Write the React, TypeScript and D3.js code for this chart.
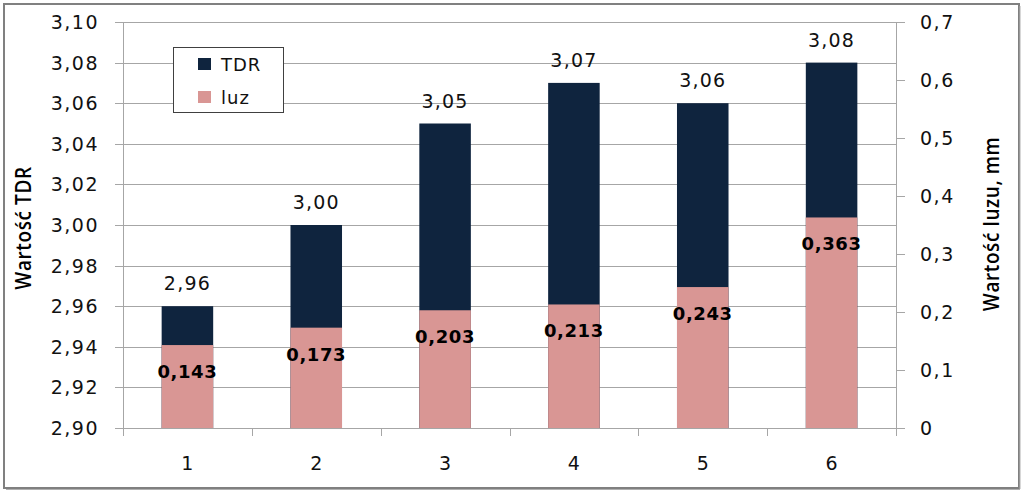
import React from "react";
import * as d3 from "d3";

const categories = ["1", "2", "3", "4", "5", "6"];
const tdrValues = [2.96, 3.0, 3.05, 3.07, 3.06, 3.08];
const luzValues = [0.143, 0.173, 0.203, 0.213, 0.243, 0.363];
const leftTicks = [2.9, 2.92, 2.94, 2.96, 2.98, 3.0, 3.02, 3.04, 3.06, 3.08, 3.1];
const rightTicks = [0, 0.1, 0.2, 0.3, 0.4, 0.5, 0.6, 0.7];
const seriesNames = ["TDR", "luz"];
const leftTitle = "Wartość TDR";
const rightTitle = "Wartość luzu, mm";

const W = 1024;
const H = 493;
const L = 123;
const R = 896;
const T = 22;
const B = 428;

const NAVY = "#0F243E";
const PINK = "#D99694";
const GRID = "#A6A6A6";
const TXT = "#111";

const fmt = (v: number, d: number) => v.toFixed(d).replace(".", ",");

export default function App() {
  const x = d3.scaleBand<string>().domain(categories).range([L, R]).paddingInner(0.6).paddingOuter(0.3);
  const yL = d3.scaleLinear().domain([2.9, 3.1]).range([B, T]);
  const yR = d3.scaleLinear().domain([0, 0.7]).range([B, T]);
  const step = x.step();
  const bw = x.bandwidth();
  const numFont = "'DejaVu Sans', Verdana, sans-serif";
  const titleFont = "'Open Sans', 'Noto Sans', sans-serif";

  return (
    <svg width={W} height={H} style={{ position: "absolute", left: 0, top: 0, background: "#fff" }}>
      <rect x={0} y={0} width={W} height={H} fill="#fff" />
      <rect x={4} y={4} width={1015} height={484} fill="none" stroke="#808080" strokeWidth={2} />
      <line x1={1020} x2={1020} y1={6} y2={489} stroke="#b0b0b0" strokeWidth={1} />
      <line x1={6} x2={1020} y1={489.5} y2={489.5} stroke="#b0b0b0" strokeWidth={1} />

      {/* gridlines */}
      {leftTicks.map((t) => (
        <line key={"g" + t} x1={L - 8} x2={R} y1={Math.round(yL(t)) + 0.5} y2={Math.round(yL(t)) + 0.5} stroke={GRID} strokeWidth={1} />
      ))}
      {/* left axis */}
      <line x1={L + 0.5} x2={L + 0.5} y1={T} y2={B + 1} stroke={GRID} />
      {leftTicks.map((t) => (
        <text key={"lt" + t} x={99} y={yL(t) + 7} textAnchor="end" fontFamily={numFont} fontSize={19} letterSpacing={1.5} fill={TXT}>
          {fmt(t, 2)}
        </text>
      ))}
      {/* right axis */}
      <line x1={R + 0.5} x2={R + 0.5} y1={T} y2={B + 1} stroke={GRID} />
      {rightTicks.map((t) => (
        <g key={"rt" + t}>
          <line x1={R} x2={R + 9} y1={Math.round(yR(t)) + 0.5} y2={Math.round(yR(t)) + 0.5} stroke={GRID} />
          <text x={920} y={yR(t) + 7} textAnchor="start" fontFamily={numFont} fontSize={19} letterSpacing={1.5} fill={TXT}>
            {t === 0 ? "0" : fmt(t, 1)}
          </text>
        </g>
      ))}
      {/* category ticks */}
      {d3.range(categories.length + 1).map((i) => (
        <line key={"ct" + i} x1={Math.round(L + i * step) + 0.5} x2={Math.round(L + i * step) + 0.5} y1={B} y2={B + 8} stroke={GRID} />
      ))}
      {categories.map((c) => (
        <text key={"cl" + c} x={(x(c) as number) + bw / 2} y={470} textAnchor="middle" fontFamily={numFont} fontSize={19} fill={TXT}>
          {c}
        </text>
      ))}

      {/* TDR bars */}
      {categories.map((c, i) => (
        <rect key={"tb" + c} x={x(c)} y={yL(tdrValues[i])} width={bw} height={yL(2.9) - yL(tdrValues[i])} fill={NAVY} />
      ))}
      {/* luz bars */}
      {categories.map((c, i) => (
        <rect key={"lb" + c} x={x(c)} y={yR(luzValues[i])} width={bw} height={yR(0) - yR(luzValues[i])} fill={PINK} />
      ))}
      {/* TDR labels */}
      {categories.map((c, i) => (
        <text key={"tl" + c} x={(x(c) as number) + bw / 2} y={yL(tdrValues[i]) - 16} textAnchor="middle" fontFamily={numFont} fontSize={19} letterSpacing={1.2} fill={TXT}>
          {fmt(tdrValues[i], 2)}
        </text>
      ))}
      {/* luz labels */}
      {categories.map((c, i) => (
        <text key={"ll" + c} x={(x(c) as number) + bw / 2} y={yR(luzValues[i]) + 33} textAnchor="middle" fontFamily={numFont} fontWeight="bold" fontSize={18} letterSpacing={0.6} fill="#000">
          {fmt(luzValues[i], 3)}
        </text>
      ))}

      {/* legend */}
      <rect x={173.5} y={47.5} width={110} height={65} fill="#fff" stroke="#404040" strokeWidth={1} />
      <rect x={198} y={58} width={13} height={12} fill={NAVY} />
      <text x={221} y={71} fontFamily={numFont} fontSize={18} letterSpacing={1} fill={TXT}>{seriesNames[0]}</text>
      <rect x={198} y={91} width={13} height={12} fill={PINK} />
      <text x={221} y={104} fontFamily={numFont} fontSize={18} letterSpacing={1} fill={TXT}>{seriesNames[1]}</text>

      {/* axis titles */}
      <text transform="translate(31,228) scale(1.15,1) rotate(-90)" textAnchor="middle" fontFamily={titleFont} fontWeight={600} fontSize={19} letterSpacing={0.6} fill="#000">
        {leftTitle}
      </text>
      <text transform="translate(999,224) scale(1.15,1) rotate(-90)" textAnchor="middle" fontFamily={titleFont} fontWeight={600} fontSize={19} letterSpacing={0.6} fill="#000">
        {rightTitle}
      </text>
    </svg>
  );
}
